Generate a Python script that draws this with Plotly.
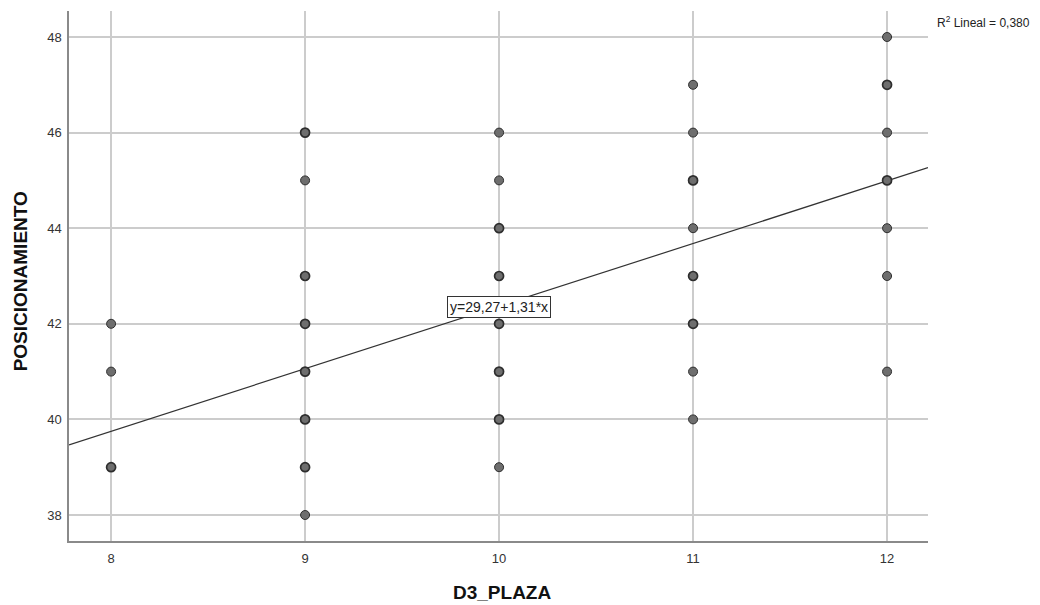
import plotly.graph_objects as go

# Data (D3_PLAZA vs POSICIONAMIENTO)
x_vals = [8, 8, 8,
          9, 9, 9, 9, 9, 9, 9, 9,
          10, 10, 10, 10, 10, 10, 10, 10,
          11, 11, 11, 11, 11, 11, 11, 11,
          12, 12, 12, 12, 12, 12, 12]
y_vals = [42, 41, 39,
          46, 45, 43, 42, 41, 40, 39, 38,
          46, 45, 44, 43, 42, 41, 40, 39,
          47, 46, 45, 44, 43, 42, 41, 40,
          48, 47, 46, 45, 44, 43, 41]
counts = [1, 1, 2,
          2, 1, 2, 2, 2, 2, 2, 1,
          1, 1, 2, 2, 2, 2, 2, 1,
          1, 1, 2, 1, 2, 2, 1, 1,
          1, 2, 1, 2, 1, 1, 1]

intercept = 29.27
slope = 1.31
r2_text = "R<sup>2</sup> Lineal = 0,380"
eq_text = "y=29,27+1,31*x"
x_title = "D3_PLAZA"
y_title = "POSICIONAMIENTO"

x_range = [7.783, 12.211]
y_range = [37.456, 48.544]
x_ticks = [8, 9, 10, 11, 12]
y_ticks = [38, 40, 42, 44, 46, 48]

FONT = "Liberation Sans, Arial, sans-serif"

fig = go.Figure()

line_x = x_range
line_y = [intercept + slope * v for v in line_x]
fig.add_trace(go.Scatter(
    x=line_x, y=line_y, mode="lines",
    line=dict(color="#333333", width=1.2),
    hoverinfo="skip", showlegend=False,
))

fig.add_trace(go.Scatter(
    x=x_vals, y=y_vals, mode="markers",
    marker=dict(
        size=9, color="#6e6e6e",
        line=dict(color="#2e2e2e", width=[1.0 if c == 1 else 1.7 for c in counts]),
    ),
    showlegend=False,
))

fig.add_annotation(
    x=10.0, y=42.35, xref="x", yref="y",
    text=eq_text, showarrow=False,
    font=dict(family=FONT, size=14, color="#222222"),
    bgcolor="white", bordercolor="#333333", borderwidth=1, borderpad=2,
)

fig.add_annotation(
    x=1.008, y=0.979, xref="paper", yref="paper",
    xanchor="left", yanchor="middle",
    text=r2_text, showarrow=False,
    font=dict(family=FONT, size=12, color="#222222"),
)

fig.add_annotation(
    x=0.504, y=-0.098, xref="paper", yref="paper",
    xanchor="center", yanchor="middle",
    text="<b>" + x_title + "</b>", showarrow=False,
    font=dict(family=FONT, size=19, color="#111111"),
)
fig.add_annotation(
    x=-0.057, y=0.49, xref="paper", yref="paper",
    xanchor="center", yanchor="middle", textangle=-90,
    text="<b>" + y_title + "</b>", showarrow=False,
    font=dict(family=FONT, size=19, color="#111111"),
)

fig.update_layout(
    width=1024, height=597,
    margin=dict(l=61, r=104, t=3, b=64),
    plot_bgcolor="white", paper_bgcolor="white",
    font=dict(family=FONT, size=13, color="#333333"),
)

fig.update_xaxes(
    range=x_range, tickvals=x_ticks, ticks="",
    showgrid=True, gridcolor="#cccccc", gridwidth=1.5,
    showline=True, linecolor="#8a8a8a", linewidth=1.5,
    zeroline=False, ticklabelstandoff=5,
    tickfont=dict(family=FONT, size=13, color="#333333"),
)
fig.update_yaxes(
    range=y_range, tickvals=y_ticks, ticks="",
    showgrid=True, gridcolor="#cccccc", gridwidth=1.5,
    showline=True, linecolor="#8a8a8a", linewidth=1.5,
    zeroline=False, ticklabelstandoff=3,
    tickfont=dict(family=FONT, size=13, color="#333333"),
)

fig.write_html("out.html")
